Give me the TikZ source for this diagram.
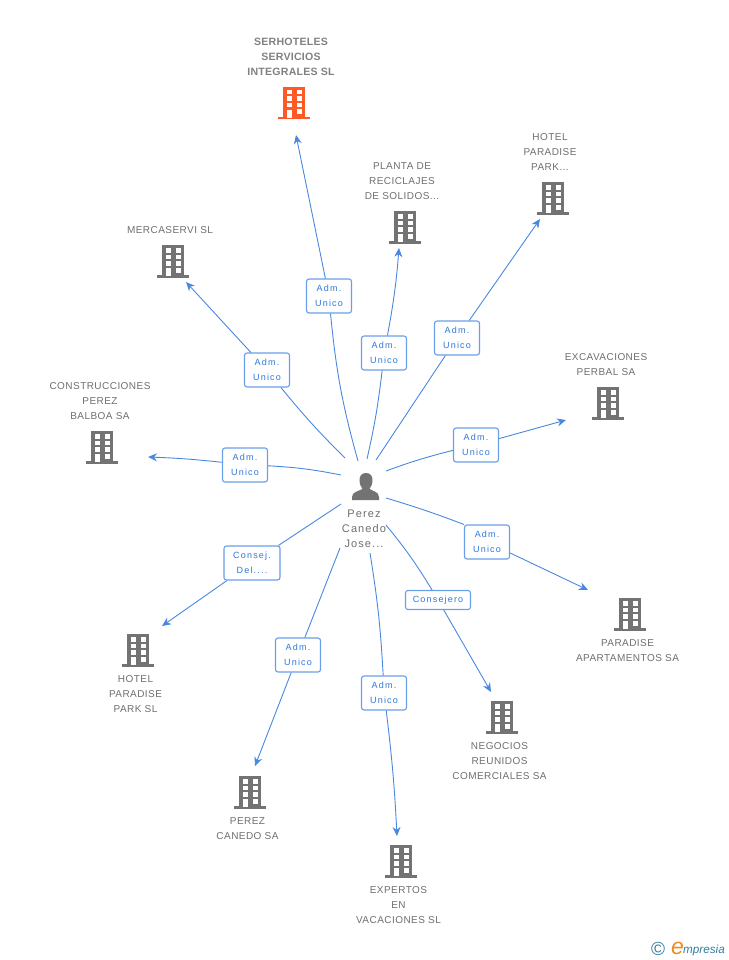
\documentclass[tikz,border=0pt]{standalone}
\usepackage{fontspec}
\setmainfont{Liberation Sans}
\usetikzlibrary{arrows.meta}
\definecolor{bgrey}{HTML}{737373}
\definecolor{orng}{HTML}{FF5A26}
\definecolor{lnblue}{HTML}{4A88E0}
\definecolor{bxblue}{HTML}{6A9FEA}
\definecolor{txblue}{HTML}{2F78D8}
\definecolor{lblgrey}{HTML}{6E6E6E}
\definecolor{logoblue}{HTML}{2F7F9F}
\definecolor{logoorng}{HTML}{F08A1C}
\newfontfamily\spaced[LetterSpace=4.5]{Liberation Sans}
\newfontfamily\spacedp[LetterSpace=10]{Liberation Sans}
\newfontfamily\spacedl[LetterSpace=13]{Liberation Sans}
\newfontfamily\spacedb[LetterSpace=2]{Liberation Sans}
\tikzset{
  x=1pt,y=-1pt,
  conn/.style={draw=lnblue,line width=0.9pt},
  arr/.style={conn,-{Stealth[length=9pt,width=8pt]}},
  lab/.style={draw=bxblue,line width=1.1pt,rounded corners=2.5pt,fill=white,align=center,
    text=txblue,font=\spacedl\fontsize{9}{15}\selectfont,inner sep=0pt,minimum width=45pt,minimum height=34pt},
  ent/.style={align=center,text=lblgrey,font=\spaced\fontsize{10}{15}\selectfont,inner sep=0pt},
  pics/bldg/.style={code={
    \fill[#1] (-11,-16) rectangle (11,15);
    \fill[#1] (-16,14) rectangle (16,16.5);
    \foreach \yy in {-13,-6.5,0}{
      \fill[white] (-7.5,\yy) rectangle (-2.5,\yy+4.5);
      \fill[white] (2.5,\yy) rectangle (7.5,\yy+4.5);}
    \fill[white] (-7.5,7) rectangle (-2.5,15);
    \fill[white] (2.5,6.5) rectangle (7.5,11.5);
  }},
}
\begin{document}
\begin{tikzpicture}
\useasboundingbox (0,0) rectangle (728,960);
% buildings
\pic at (294,103) {bldg=orng};
\pic at (405,227) {bldg=bgrey};
\pic at (553,198) {bldg=bgrey};
\pic at (608,403) {bldg=bgrey};
\pic at (630,614) {bldg=bgrey};
\pic at (502,717) {bldg=bgrey};
\pic at (401,861) {bldg=bgrey};
\pic at (250,792) {bldg=bgrey};
\pic at (138,650) {bldg=bgrey};
\pic at (102,447) {bldg=bgrey};
\pic at (173,261) {bldg=bgrey};
% person
\fill[bgrey] (366,473) .. controls (361.5,473) and (359.5,476) .. (359.5,480) .. controls (359.5,484) and (361,487) .. (362.5,489)
  .. controls (358,491.5) and (352.5,491.5) .. (352,497) -- (352,500) -- (379,500) -- (379,497)
  .. controls (378.5,491.5) and (373.5,491.5) .. (369.5,489) .. controls (371,487) and (372.5,484) .. (372.5,480)
  .. controls (372.5,476) and (370.5,473) .. (366,473) -- cycle;
% entity labels
\node[ent,text=bgrey!90!white,font=\spacedb\bfseries\fontsize{10.6}{15}\selectfont] (tSer) at (291,57) {SERHOTELES\\SERVICIOS\\INTEGRALES SL};
\node[ent] (tPla) at (402,181) {PLANTA DE\\RECICLAJES\\DE SOLIDOS...};
\node[ent] (tHot) at (550,152.5) {HOTEL\\PARADISE\\PARK...};
\node[ent] (tExc) at (606,365) {EXCAVACIONES\\PERBAL SA};
\node[ent] (tPar) at (627.5,651) {PARADISE\\APARTAMENTOS SA};
\node[ent] (tNeg) at (499.5,761) {NEGOCIOS\\REUNIDOS\\COMERCIALES SA};
\node[ent] (tExp) at (398.5,905) {EXPERTOS\\EN\\VACACIONES SL};
\node[ent] (tPer) at (247.5,829) {PEREZ\\CANEDO SA};
\node[ent] (tHSL) at (135.5,694) {HOTEL\\PARADISE\\PARK SL};
\node[ent] (tCon) at (100,401) {CONSTRUCCIONES\\PEREZ\\BALBOA SA};
\node[ent] (tMer) at (170,230) {MERCASERVI SL};
\node[ent,font=\spacedp\fontsize{11}{15}\selectfont] (tJos) at (364,529) {Perez\\Canedo\\Jose...};
% relation labels
\node[lab] (l1) at (329,296) {Adm.\\Unico};
\node[lab] (l2) at (384,353) {Adm.\\Unico};
\node[lab] (l3) at (457,338) {Adm.\\Unico};
\node[lab] (l4) at (476,445) {Adm.\\Unico};
\node[lab] (l5) at (487,542) {Adm.\\Unico};
\node[lab,minimum width=65pt,minimum height=19pt] (l6) at (438,600) {Consejero};
\node[lab] (l7) at (384,693) {Adm.\\Unico};
\node[lab] (l8) at (298,655) {Adm.\\Unico};
\node[lab,minimum width=56pt] (l9) at (252,563) {Consej.\\Del....};
\node[lab] (l10) at (245,465) {Adm.\\Unico};
\node[lab] (l11) at (267,370) {Adm.\\Unico};
% connector ends
\coordinate (s1) at (358,461);   \coordinate (e1) at (296,135);
\coordinate (s2) at (367,459);   \coordinate (e2) at (399,248);
\coordinate (s3) at (376,460);   \coordinate (e3) at (540,219);
\coordinate (s4) at (386,471);   \coordinate (e4) at (566,420);
\coordinate (s5) at (386,498);   \coordinate (e5) at (588,590);
\coordinate (s6) at (386,525);   \coordinate (e6) at (491,692);
\coordinate (s7) at (370,553);   \coordinate (e7) at (397,836);
\coordinate (s8) at (340,548);   \coordinate (e8) at (255,766);
\coordinate (s9) at (341,504);   \coordinate (e9) at (162,626);
\coordinate (s10) at (341,475);  \coordinate (e10) at (148,457);
\coordinate (s11) at (345,458);  \coordinate (e11) at (186,282);
% connectors
\draw[conn] (s1) to[bend left=5] (l1);   \draw[arr] (l1) -- (e1);
\draw[conn] (s2) to[bend right=3] (l2);  \draw[arr] (l2) to[bend right=3] (e2);
\draw[conn] (s3) -- (l3);                \draw[arr] (l3) -- (e3);
\draw[conn] (s4) to[bend left=3] (l4);   \draw[arr] (l4) -- (e4);
\draw[conn] (s5) to[bend left=2] (l5.north west);  \draw[arr] (l5) -- (e5);
\draw[conn] (s6) to[bend left=4] (l6);   \draw[arr] (l6) -- (e6);
\draw[conn] (s7) to[bend left=3] (l7);   \draw[arr] (l7) to[bend left=2] (e7);
\draw[conn] (s8) -- (l8);                \draw[arr] (l8) -- (e8);
\draw[conn] (s9) -- (l9);                \draw[arr] (l9) -- (e9);
\draw[conn] (s10) to[bend right=4] (l10);\draw[arr] (l10) to[bend right=2] (e10);
\draw[conn] (s11) to[bend left=3] (l11); \draw[arr] (l11) -- (e11);
% logo
\node[inner sep=0pt,text=logoblue,font=\fontsize{19}{19}\selectfont] (copy) at (658,949) {©};
\node[inner sep=0pt,anchor=base west,text=logoorng,font=\itshape\fontsize{23}{23}\selectfont] (logoE) at (671,954) {e};
\node[inner sep=0pt,anchor=base west,text=logoblue,font=\itshape\fontsize{11.7}{12}\selectfont] (logoT) at (683,953) {mpresia};
\end{tikzpicture}
\end{document}
